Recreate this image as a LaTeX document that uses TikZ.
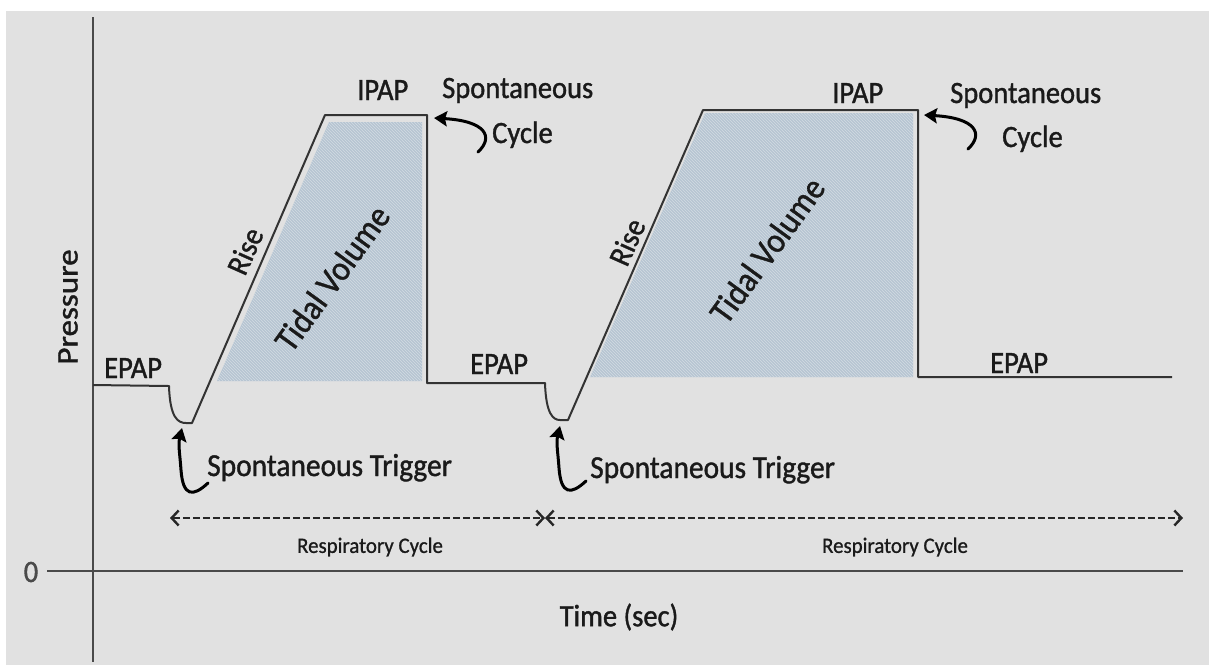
\documentclass[tikz,border=0pt]{standalone}
\usepackage{fontspec}
\setmainfont{Carlito}
\newfontfamily\lblfont{Carlito}[FakeStretch=0.92,FakeBold=1.2]
\newfontfamily\axfont{Carlito}[FakeStretch=1.10,FakeBold=1.2]
\newfontfamily\smallfont{Carlito}[FakeStretch=0.95,FakeBold=0.9]
\usetikzlibrary{arrows.meta,patterns}
\definecolor{bggrey}{HTML}{E1E1E1}
\definecolor{axisc}{HTML}{4A4A4A}
\definecolor{wavec}{HTML}{333333}
\definecolor{tvfill}{HTML}{B6C5D2}
\definecolor{tvhatch}{HTML}{D3DCE3}
\definecolor{ink}{HTML}{1A1A1A}
\tikzset{
  axisline/.style={draw=axisc,line width=2.6pt},
  wave/.style={draw=wavec,line width=2pt,line join=round},
  tvarea/.style={fill=tvfill},
  tvpattern/.style={pattern=north west lines,pattern color=tvhatch},
  lbl/.style={text=ink,font=\lblfont\fontsize{31}{33}\selectfont,inner sep=0pt},
  biglbl/.style={text=ink,font=\lblfont\fontsize{35}{37}\selectfont,inner sep=0pt},
  axlbl/.style={text=ink,font=\axfont\fontsize{30}{32}\selectfont,inner sep=0pt},
  smalllbl/.style={text=ink,font=\smallfont\fontsize{22}{24}\selectfont,inner sep=0pt},
  pointer/.style={draw=black,line width=3pt,line cap=round,-{Stealth[length=13pt,width=15pt,inset=2pt]}},
  cyclearrow/.style={draw=black!85,line width=2.4pt,dash pattern=on 7pt off 3pt,
    {Straight Barb[length=7pt,width=15pt]}-{Straight Barb[length=7pt,width=15pt]}},
  trig/.pic={
    \draw[pointer] (25,55) .. controls (10,69) and (0,69) .. (-2,42)
                   .. controls (-3,27) and (-5,17) .. (-1,0);
  },
  cyc/.pic={
    \draw[pointer] (0,0) .. controls (16,-15) and (8,-31) .. (-44,-34);
  }
}
\begin{document}
\begin{tikzpicture}[x=1pt,y=-1pt]
  % page and plotting background
  \fill[white] (0,0) rectangle (1209,665);
  \fill[bggrey] (6,11) rectangle (1209,665);
  \useasboundingbox (0,0) rectangle (1209,665);

  % axes
  \draw[axisline] (93,17) -- (93,662);
  \draw[axisline] (47,571) -- (1183,571);
  \node[lbl,text=axisc] (zero) at (31,572) {0};
  \node[axlbl,rotate=90] (ylab) at (68,307) {Pressure};
  \node[lbl] (xlab) at (619,617) {Time (sec)};

  % tidal volume areas
  \path[tvarea] (217,381) -- (329,122) -- (422,122) -- (422,381) -- cycle;
  \path[tvpattern] (217,381) -- (329,122) -- (422,122) -- (422,381) -- cycle;
  \path[tvarea] (590,377) -- (705,113) -- (913,113) -- (913,377) -- cycle;
  \path[tvpattern] (590,377) -- (705,113) -- (913,113) -- (913,377) -- cycle;

  % pressure waveform
  \coordinate (trig1) at (183,428);
  \coordinate (trig2) at (561,426);
  \draw[wave] (93,385) -- (169,386) .. controls (170,418) and (178,423) .. (186,423)
    -- (192,423) -- (325,115) -- (427,115) -- (427,383) -- (545,383)
    .. controls (546,414) and (553,420) .. (560,420) -- (568,420)
    -- (703,110) -- (918,110) -- (918,377) -- (1172,377);

  % level labels
  \node[lbl,anchor=base west] (epap1) at (104,378) {EPAP};
  \node[lbl,anchor=base west] (epap2) at (470,374) {EPAP};
  \node[lbl,anchor=base west] (epap3) at (990,373) {EPAP};
  \node[lbl,anchor=base west] (ipap1) at (357,100) {IPAP};
  \node[lbl,anchor=base west] (ipap2) at (832,103) {IPAP};
  \node[lbl,rotate=66] (rise1) at (245,251) {Rise};
  \node[lbl,rotate=66] (rise2) at (627,242) {Rise};
  \node[biglbl,rotate=54] (tv1) at (332,278) {Tidal Volume};
  \node[biglbl,rotate=54] (tv2) at (767,250) {Tidal Volume};

  % spontaneous cycle annotations
  \node[lbl,anchor=base west] (sc1a) at (442,98) {Spontaneous};
  \node[lbl,anchor=base west] (sc1b) at (492,143) {Cycle};
  \node[lbl,anchor=base west] (sc2a) at (950,103) {Spontaneous};
  \node[lbl,anchor=base west] (sc2b) at (1002,147) {Cycle};
  \pic at (478,152) {cyc};
  \pic at (968,149) {cyc};

  % spontaneous trigger annotations
  \node[lbl,anchor=base west,font=\lblfont\fontsize{32}{34}\selectfont] (st1) at (207,476) {Spontaneous Trigger};
  \node[lbl,anchor=base west,font=\lblfont\fontsize{32}{34}\selectfont] (st2) at (590,478) {Spontaneous Trigger};
  \pic at (trig1) {trig};
  \pic at (trig2) {trig};

  % respiratory cycles
  \coordinate (rc0) at (170,518);
  \coordinate (rc1) at (545,518);
  \coordinate (rc2) at (1183,518);
  \draw[cyclearrow] (rc0) -- (rc1);
  \draw[cyclearrow] (rc1) -- (rc2);
  \node[smalllbl] (rcl1) at (370,547) {Respiratory Cycle};
  \node[smalllbl] (rcl2) at (895,547) {Respiratory Cycle};
\end{tikzpicture}
\end{document}
